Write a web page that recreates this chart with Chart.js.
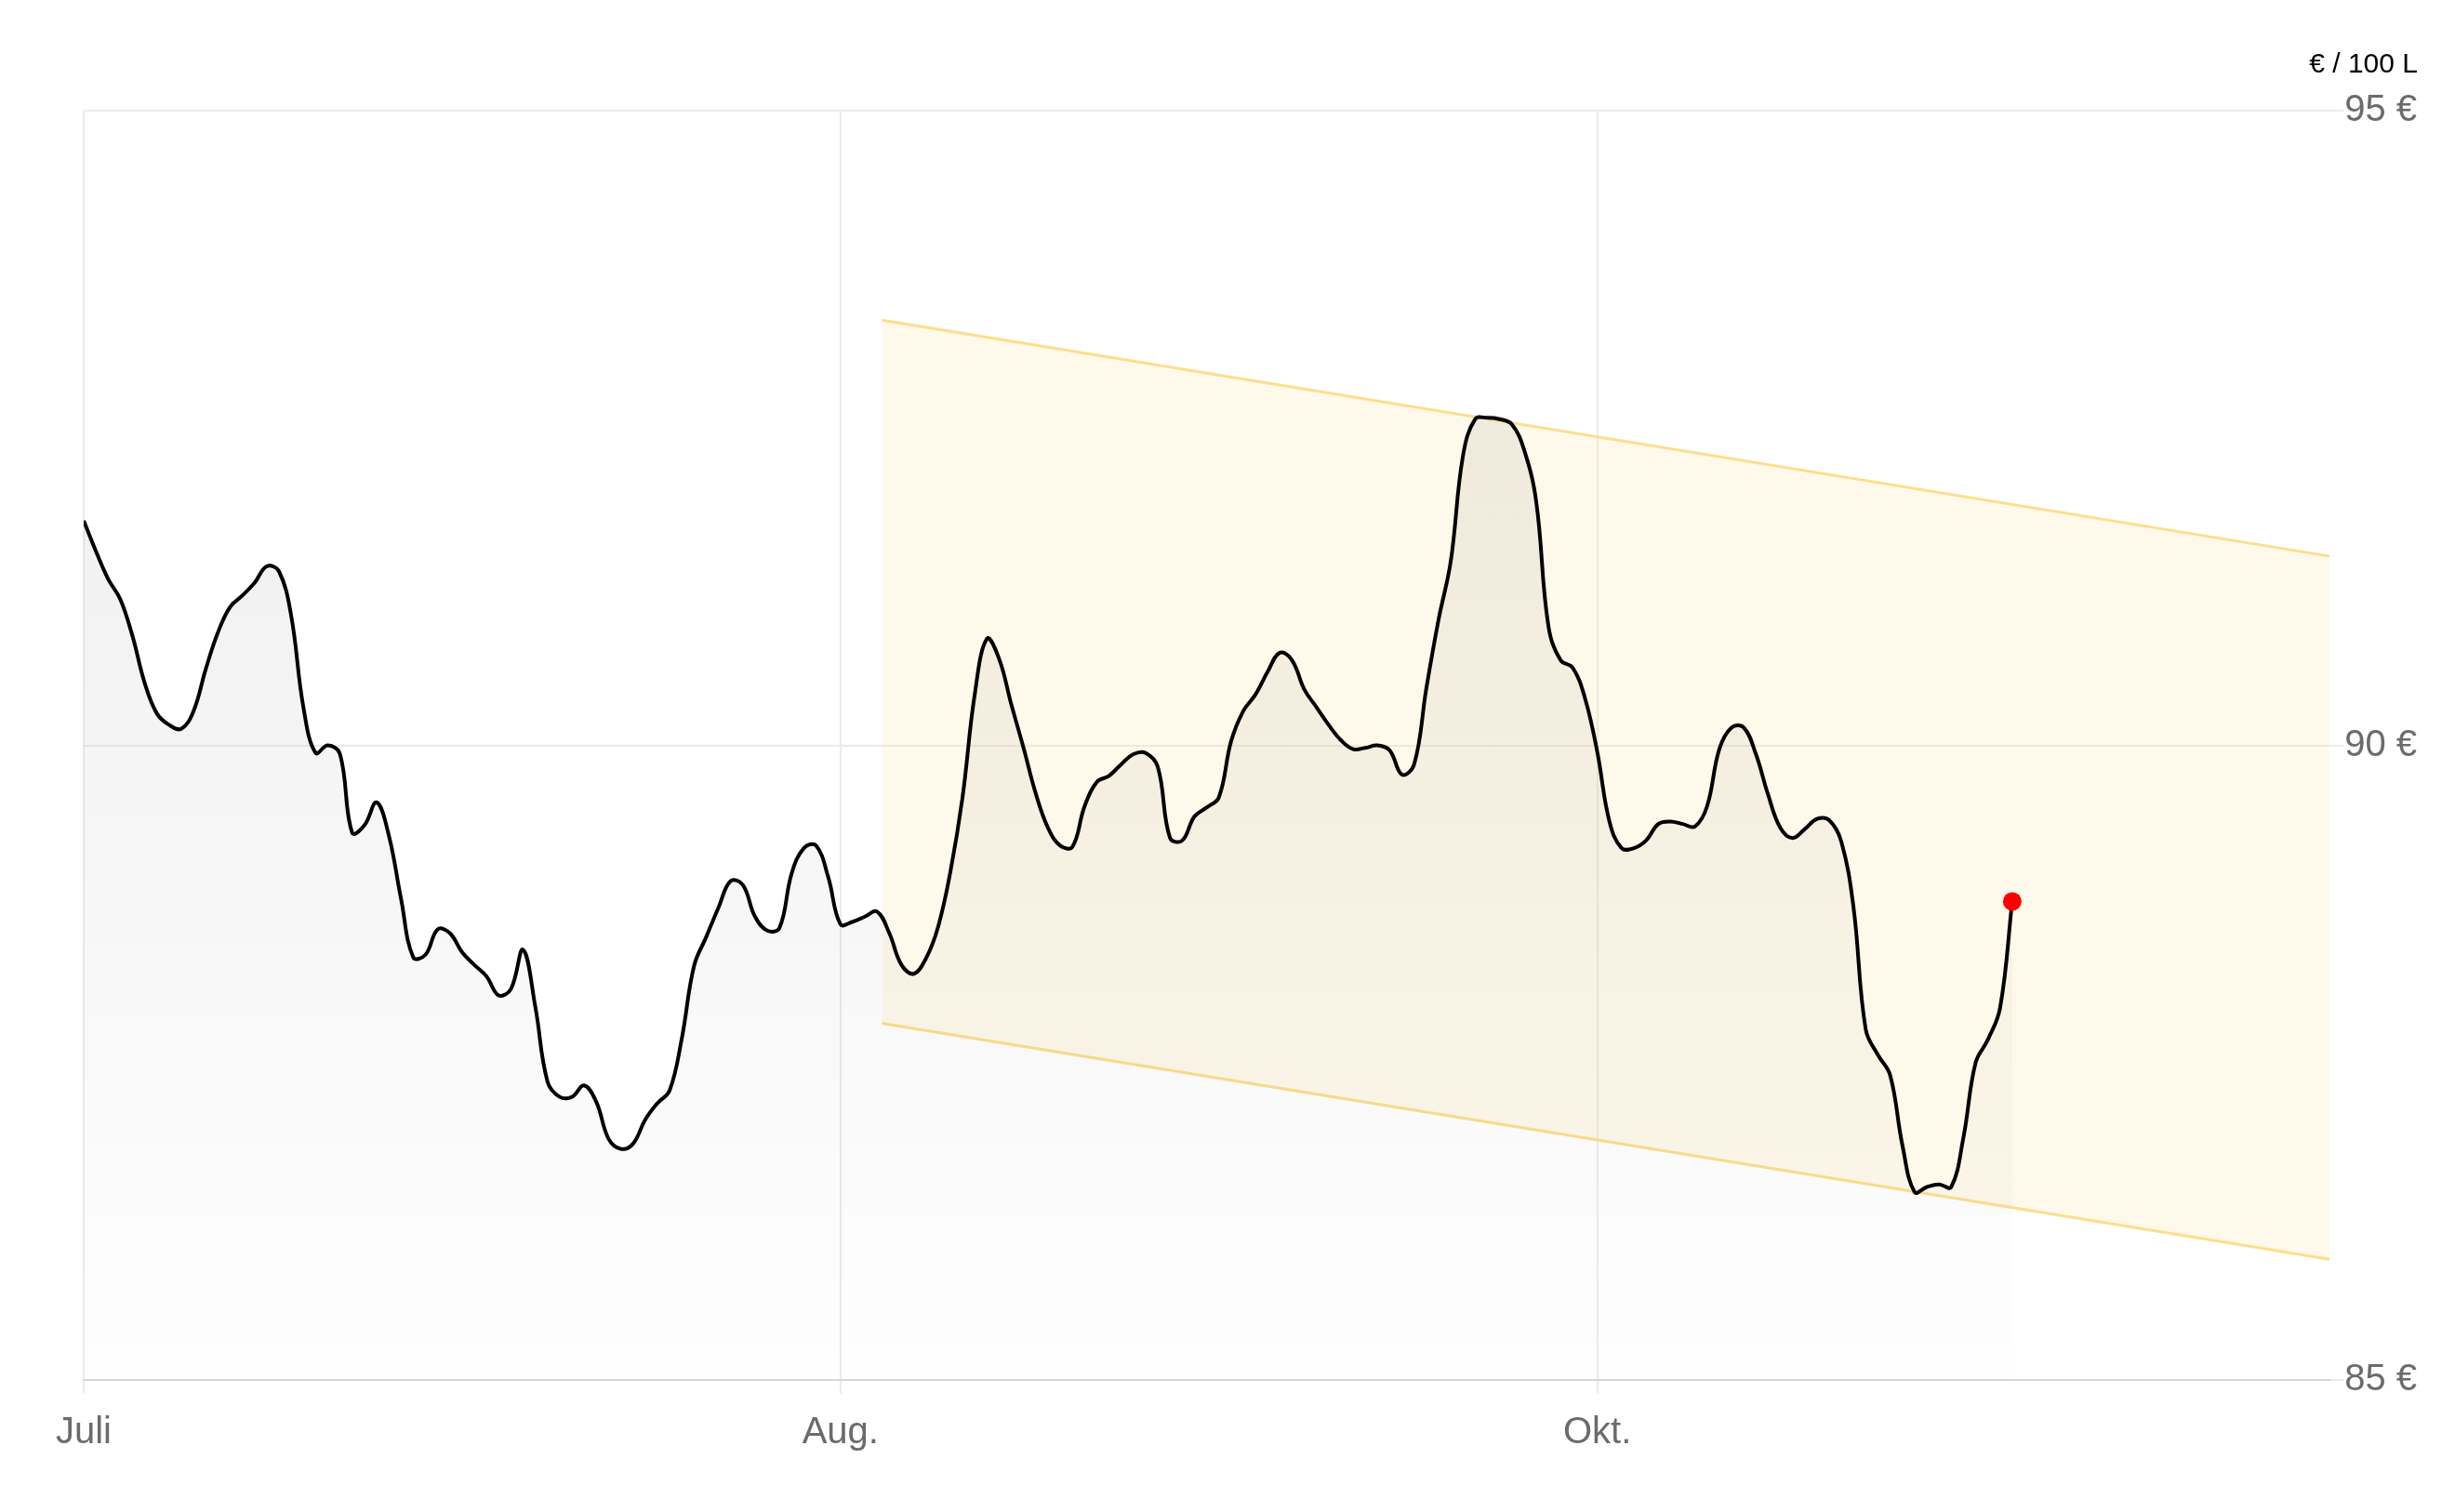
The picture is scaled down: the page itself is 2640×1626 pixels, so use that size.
<!DOCTYPE html>
<html>
<head>
<meta charset="utf-8">
<script src="https://cdn.jsdelivr.net/npm/chart.js@4.4.1/dist/chart.umd.min.js"></script>
<style>
  html, body { margin: 0; padding: 0; background: #fff; }
  #wrap { width: 2640px; height: 1626px; }
</style>
</head>
<body>
<div id="wrap"><canvas id="price-chart"></canvas></div>
<script>
document.addEventListener("DOMContentLoaded", function() {
    // Heizöl price, one value per step on the x index
    const prices = [
      91.77, 91.53, 91.31, 91.15, 90.86, 90.49, 90.25, 90.16, 90.13, 90.27,
      90.60, 90.89, 91.09, 91.18, 91.28, 91.41, 91.37, 91.02, 90.30, 89.94,
      90.00, 89.93, 89.31, 89.37, 89.55, 89.29, 88.79, 88.33, 88.35, 88.55,
      88.52, 88.37, 88.27, 88.18, 88.03, 88.08, 88.39, 87.94, 87.35, 87.23,
      87.23, 87.32, 87.19, 86.90, 86.82, 86.86, 87.05, 87.18, 87.28, 87.69,
      88.26, 88.49, 88.72, 88.93, 88.90, 88.65, 88.54, 88.56, 88.99, 89.19,
      89.21, 88.96, 88.59, 88.61, 88.65, 88.69, 88.52, 88.27, 88.20, 88.32,
      88.57, 89.00, 89.59, 90.40, 90.84, 90.68, 90.32, 89.98, 89.62, 89.35,
      89.21, 89.20, 89.52, 89.71, 89.76, 89.85, 89.93, 89.94, 89.83, 89.27,
      89.25, 89.44, 89.51, 89.59, 90.03, 90.27, 90.40, 90.58, 90.73, 90.67,
      90.44, 90.30, 90.16, 90.04, 89.97, 89.98, 90.00, 89.96, 89.77, 89.85,
      90.45, 90.99, 91.45, 92.28, 92.57, 92.58, 92.57, 92.53, 92.33, 91.92,
      90.94, 90.67, 90.61, 90.37, 89.95, 89.40, 89.19, 89.19, 89.25, 89.38,
      89.40, 89.38, 89.36, 89.52, 89.97, 90.14, 90.14, 89.93, 89.61, 89.35,
      89.27, 89.34, 89.42, 89.41, 89.24, 88.72, 87.76, 87.56, 87.40, 86.85,
      86.48, 86.52, 86.54, 86.52, 86.91, 87.50, 87.68, 87.93, 88.77
    ];

    // month ticks on the x index
    const monthTicks = [0, 62, 124];
    const monthLabels = ["Juli", "Aug.", "Okt."];
    const xMax = 184;

    // price ticks
    const yTicks = [85, 90, 95];

    // trend channel (start / end)
    const channelX = [65.4, 184];
    const channelUpper = [93.35, 91.49];
    const channelLower = [87.81, 85.95];

    const unitLabel = "€ / 100 L";

    const fontFamily = "'Liberation Sans', Arial, Helvetica, sans-serif";

    const canvas = document.getElementById("price-chart");

    const chart = new Chart(canvas, {
      type: "line",
      data: {
        datasets: [
          {
            label: "Preis",
            data: prices.map((p, i) => ({ x: i, y: p })),
            borderColor: "#000000",
            borderWidth: 4,
            tension: 0.4,
            fill: "start",
            backgroundColor: function(context) {
              const area = context.chart.chartArea;
              if (!area) return "rgba(0,0,0,0.05)";
              const g = context.chart.ctx.createLinearGradient(0, area.top, 0, area.bottom);
              g.addColorStop(0, "rgba(0,0,0,0.08)");
              g.addColorStop(1, "rgba(0,0,0,0.005)");
              return g;
            },
            pointRadius: ctx => ctx.dataIndex === prices.length - 1 ? 10 : 0,
            pointBackgroundColor: "#ff0000",
            pointBorderWidth: 0,
            order: 0
          },
          {
            label: "Trend oben",
            data: channelX.map((x, i) => ({ x: x, y: channelUpper[i] })),
            borderColor: "rgb(253, 222, 140)",
            borderWidth: 3,
            pointRadius: 0,
            fill: "+1",
            backgroundColor: "rgba(250, 225, 150, 0.2)",
            order: 1
          },
          {
            label: "Trend unten",
            data: channelX.map((x, i) => ({ x: x, y: channelLower[i] })),
            borderColor: "rgb(253, 222, 140)",
            borderWidth: 3,
            pointRadius: 0,
            fill: false,
            order: 2
          }
        ]
      },
      options: {
        responsive: true,
        maintainAspectRatio: false,
        devicePixelRatio: 1,
        animation: false,
        layout: {
          padding: { left: 90, right: 40, top: 0, bottom: 43 }
        },
        plugins: {
          legend: { display: false },
          tooltip: { enabled: false },
          title: {
            display: true,
            text: unitLabel,
            align: "end",
            color: "#000000",
            font: { family: fontFamily, size: 30, weight: "normal" },
            padding: { top: 52, bottom: 31 }
          }
        },
        scales: {
          x: {
            type: "linear",
            min: 0,
            max: xMax,
            afterBuildTicks: axis => {
              axis.ticks = monthTicks.map(v => ({ value: v }));
            },
            ticks: {
              autoSkip: false,
              maxRotation: 0,
              padding: 18,
              color: "#6b6b6b",
              font: { family: fontFamily, size: 40 },
              callback: function(value) {
                const k = monthTicks.indexOf(value);
                return k >= 0 ? monthLabels[k] : "";
              }
            },
            grid: {
              color: "#ebebef",
              lineWidth: 2,
              tickLength: 15
            },
            border: {
              display: true,
              color: "#d6d6da",
              width: 2
            }
          },
          y: {
            position: "right",
            min: 85,
            max: 95,
            afterBuildTicks: axis => {
              axis.ticks = yTicks.map(v => ({ value: v }));
            },
            ticks: {
              padding: 1,
              color: "#6b6b6b",
              font: { family: fontFamily, size: 40 },
              callback: value => value + " €"
            },
            grid: {
              color: "#ebebef",
              lineWidth: 2,
              tickLength: 15
            },
            border: { display: false }
          }
        }
      }
    });
});
</script>
</body>
</html>
